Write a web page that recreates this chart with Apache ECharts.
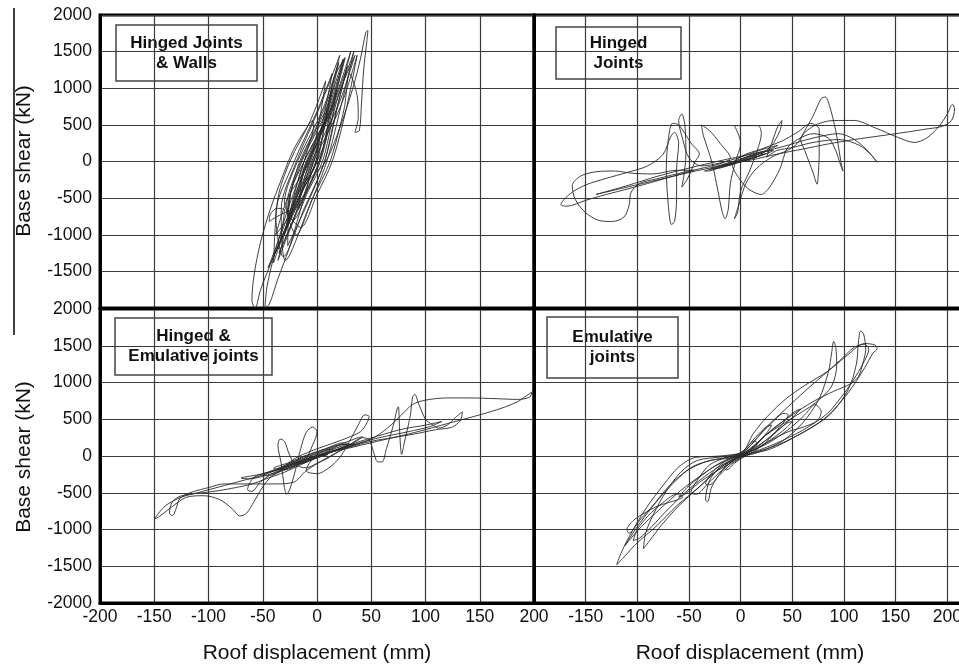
<!DOCTYPE html>
<html>
<head>
<meta charset="utf-8">
<script src="https://cdn.jsdelivr.net/npm/echarts@6/dist/echarts.min.js"></script>
<style>
  html, body { margin: 0; padding: 0; background: #fff; }
  #chart { width: 959px; height: 665px; }
</style>
</head>
<body>
<div id="chart"></div>
<script>
// Roof displacement (mm) vs base shear (kN) traces, one per joint configuration.
const hingedWallsLoop = [
  [0,0],[-5,-150],[-12,-300],[-5,-150],[-1,0],[1,150],[2,300],[-3,180],[-9,0],[-13,-150],
  [-17,-650],[-7,-330],[2,0],[8,320],[11,650],[3,350],[-8,0],[-16,-330],
  [-30,-1000],[-17,-500],[0,0],[7,500],[14,1000],[1,520],[-16,0],[-25,-500],
  [-27,-1150],[-9,-580],[7,0],[17,650],[28,1300],[13,700],[-9,0],[-21,-600],
  [-40,-1300],[-22,-650],[-3,0],[9,720],[21,1450],[3,760],[-19,0],[-33,-650],
  [-29,-1350],[-9,-680],[9,0],[22,750],[34,1500],[17,800],[-7,0],[-19,-680],
  [-35,-1250],[-17,-620],[2,0],[13,700],[24,1400],[9,740],[-15,0],[-28,-620],
  [-19,-1000],[-4,-500],[12,0],[25,720],[30,1200],[37,900],[38,600],[35,400],[39,420],[41,800],[43,1250],[46,1650],[47,1790],[45,1760],[40,1400],[33,1000],[22,500],[8,0],
  [-10,-300],[-25,-800],[-40,-1300],[-52,-1750],[-57,-2000],[-60,-1900],[-58,-1550],[-52,-1100],[-43,-650],[-33,-250],[-22,150],[-10,450],[-4,560],[-3,500],[-8,200],[-16,-200],[-28,-700],[-38,-1200],[-46,-1700],[-48,-2000],[-44,-1950],[-36,-1600],[-26,-1200],[-16,-700],[-6,-200],
  [6,200],[14,600],[22,1000],[35,1450],[20,780],[-5,0],[-16,-520],
  [-45,-1450],[-26,-720],[-4,0],[6,600],[14,1200],[-1,650],[-21,0],[-38,-720],
  [-31,-1300],[-12,-650],[7,0],[19,750],[31,1500],[15,800],[-10,0],[-24,-650],
  [-30,-700],[-38,-760],[-44,-820],[-43,-720],[-37,-640],[-30,-660],
  [-34,-1100],[-18,-550],[-1,0],[10,680],[20,1350],[5,700],[-18,0],[-30,-560],
  [-22,-800],[-8,-400],[5,0],[13,500],[18,1000],[6,520],[-12,0],[-20,-400],
  [-36,-1350],[-18,-680],[3,0],[14,700],[25,1400],[10,720],[-14,0],[-27,-660],
  [-15,-900],[0,-450],[14,0],[27,720],[37,1450],[22,760],[-3,0],[-12,-450],
  [-38,-1000],[-27,-500],[-7,0],[2,550],[8,1100],[-6,560],[-25,0],[-36,-500],
  [-40,-1380],[-24,-700],[-6,0],[8,600],[16,1150],[26,1420],[12,700],[-12,0],[-24,-400],[-28,-900],[-20,-450],[-8,0]
];

const hingedLoop = [
  [0,0],[8,30],[16,70],[12,75],[2,25],[-10,-30],[-18,-60],[-14,-60],[-2,-10],[12,50],[25,110],[32,150],[28,150],[14,90],[-4,10],[-22,-70],[-35,-130],[-32,-130],[-18,-70],[0,10],[18,100],[30,180],[36,220],
  [20,160],[0,60],[-20,-20],[-38,-60],[-50,50],[-56,300],[-60,560],[-57,650],[-54,500],[-53,100],[-55,-200],[-57,-350],[-52,-250],[-44,0],
  [-40,100],[-48,250],[-60,500],[-66,520],[-70,300],[-72,-100],[-70,-600],[-67,-860],[-64,-820],[-62,-500],[-62,-100],[-60,250],[-64,400],[-68,330],
  [-75,100],[-90,-60],[-110,-150],[-130,-230],[-150,-320],[-165,-440],[-174,-590],[-168,-610],[-150,-530],[-130,-450],[-108,-370],[-90,-300],[-75,-240],[-60,-180],[-45,-120],
  [-62,-120],[-85,-170],[-105,-160],[-122,-130],[-140,-140],[-155,-200],[-163,-330],[-160,-520],[-150,-700],[-138,-800],[-125,-820],[-113,-760],[-108,-600],[-106,-420],[-98,-300],[-82,-240],[-62,-170],[-40,-100],[-20,-30],
  [-10,50],[-20,250],[-30,420],[-38,500],[-36,350],[-28,0],[-22,-400],[-18,-680],[-15,-780],[-12,-650],[-10,-300],[-5,0],[0,250],[-6,490],[5,490],[17,490],[20,380],[16,150],[8,-150],[0,-400],[-3,-700],[-6,-780],[-2,-600],[5,-300],[15,-100],[30,60],[45,150],[55,250],
  [62,420],[70,620],[78,860],[82,880],[86,760],[92,420],[97,0],[99,-130],[97,-60],[92,150],[85,320],[70,380],[55,300],[45,180],[38,-100],[28,-350],[20,-450],[8,-380],[-2,-220],[-8,-50],[2,80],[20,170],[40,280],[55,400],[68,520],[76,440],[76,100],[75,-200],[74,-310],[70,-150],[62,150],[58,300],
  [70,480],[90,560],[110,560],[130,460],[152,330],[168,260],[180,320],[192,480],[200,650],[205,780],[207,720],[204,560],[195,480],[178,440],[160,400],[135,350],[110,300],[85,240],[60,170],[35,100],[10,20],[-20,-60],[-50,-150],[-80,-250],[-110,-350],[-140,-450],
  [-110,-330],[-80,-200],[-50,-90],[-20,10],[10,100],[40,200],[70,320],[95,380],[110,300],[122,160],[132,-10],[127,80],[115,220],[95,300],[70,260],[50,190],[35,150],
  [25,60],[30,250],[36,480],[40,560],[38,420],[30,220],[18,80],[0,0],
  [-14,-40],[-26,-100],[-20,-90],[-4,-20],[14,60],[28,130],[24,140],[8,70],[-10,-10],[-24,-70],[-30,-110],[-22,-90],[-6,-20],[10,40],[22,100],[18,110],[0,30]
];

const hingedEmulativeLoop = [
  [0,0],[8,40],[16,80],[12,90],[2,30],[-10,-50],[-18,-100],[-14,-100],[-2,-30],[12,50],[24,120],[30,160],[26,160],[12,90],[-6,0],[-22,-100],[-34,-180],[-30,-190],[-16,-110],[4,0],[22,100],[36,200],[42,260],[38,250],[22,160],[2,50],[-18,-60],[-38,-180],[-50,-260],[-46,-270],[-30,-180],[-12,-70],
  [-4,150],[0,330],[-4,395],[-10,320],[-15,100],[-20,-200],[-25,-450],[-28,-520],[-30,-430],[-33,-100],[-36,150],[-34,230],[-30,200],[-26,40],[-20,-120],[-10,-160],[0,-100],
  [10,-30],[20,60],[30,150],[42,250],[48,220],[52,60],[56,-80],[60,-80],[64,100],[70,400],[74,650],[75,670],[76,400],[77,120],[78,20],[80,150],[86,550],[88,800],[90,840],[94,700],[100,500],[106,430],[112,380],[120,420],[128,530],[134,600],[132,480],[124,390],[110,360],[90,300],[70,250],[50,200],[30,120],[10,40],[-10,-40],[-30,-140],
  [-20,-30],[-5,70],[10,150],[25,230],[40,330],[46,450],[48,540],[44,560],[38,420],[30,200],[22,0],[12,-150],[0,-240],[-10,-200],[-5,-60],[10,40],[30,110],[50,180],[70,250],[90,320],[110,400],[130,480],[150,560],[170,650],[185,740],[193,820],[198,870],[196,800],[185,770],[165,780],[140,790],[120,790],[100,760],[88,700],[78,560],[65,380],[50,230],[30,130],[10,50],[-10,-40],[-30,-150],[-50,-260],[-70,-340],[-90,-420],[-110,-500],[-125,-560],[-140,-680],[-150,-860],[-145,-820],[-130,-650],[-120,-560],[-105,-540],[-90,-590],[-78,-720],[-71,-816],[-65,-780],[-58,-620],[-50,-420],[-42,-280],[-32,-200],[-20,-130],[-5,-50],[10,20],
  [0,-20],[-15,-120],[-30,-220],[-45,-300],[-60,-380],[-75,-430],[-90,-470],[-105,-500],[-118,-520],[-128,-560],[-134,-640],[-136,-780],[-133,-810],[-130,-720],[-126,-570],[-115,-490],[-100,-430],[-86,-380],[-60,-380],[-40,-380],[-22,-360],[-10,-200],[5,-60],[20,60],[35,160],[20,150],[5,80],[-10,0],[-25,-100],[-40,-200],[-58,-290],[-64,-460],[-60,-480],[-52,-350],[-42,-250],[-28,-150],[-14,-80],[0,0],
  [14,90],[28,170],[24,180],[8,100],[-10,10],[-26,-90],[-40,-170],[-36,-180],[-20,-110],[0,-10],[20,100],[40,200],[60,290],[80,370],[100,420],[115,470],[104,400],[84,330],[64,270],[44,200],[24,110],[4,20],[-16,-80],[-36,-190],[-56,-260],[-70,-300],[-62,-310],[-44,-250],[-24,-150],[-6,-50],[0,0]
];

const emulativeLoop = [
  [0,0],[8,60],[16,180],[13,200],[4,90],[-6,-30],[-16,-160],[-14,-190],[-6,-100],[4,10],[14,130],[26,330],[30,420],[25,400],[14,250],[2,60],[-12,-40],[-26,-200],[-34,-380],[-30,-390],[-20,-250],[-6,-80],[8,20],[24,180],[38,400],[46,560],[42,580],[30,450],[16,250],[2,40],[-14,-20],[-30,-120],[-42,-330],[-48,-500],[-43,-520],[-32,-380],[-18,-190],[-2,-20],
  [15,40],[40,200],[60,450],[76,780],[85,1150],[88,1400],[90,1560],[92,1480],[93,1250],[88,950],[72,720],[48,500],[24,280],[6,60],[-18,-10],[-42,-60],[-58,-220],[-72,-480],[-84,-780],[-92,-1050],[-94,-1260],
  [-88,-1150],[-76,-930],[-60,-680],[-40,-420],[-18,-140],[4,10],[28,90],[55,280],[82,520],[104,860],[120,1200],[128,1400],[132,1460],[130,1510],[120,1530],[104,1380],[84,1150],[62,960],[44,780],[26,540],[12,300],[2,60],[-20,0],[-44,-20],[-60,-150],[-74,-380],[-92,-720],[-108,-1100],[-116,-1330],[-120,-1480],
  [-112,-1360],[-100,-1180],[-82,-960],[-62,-680],[-40,-420],[-16,-120],[6,20],[30,120],[58,300],[86,560],[104,900],[112,1250],[114,1550],[116,1700],[119,1660],[121,1450],[118,1250],[114,1080],[106,980],[90,880],[70,740],[50,560],[32,380],[16,180],[0,20],[-22,-40],[-46,-140],[-66,-380],[-84,-660],[-98,-880],[-108,-1050],[-110,-1000],
  [-104,-880],[-96,-800],[-80,-680],[-62,-600],[-56,-560],[-62,-520],[-74,-620],[-90,-820],[-100,-1000],[-104,-1150],
  [-98,-1120],[-86,-960],[-70,-720],[-50,-450],[-30,-230],[-10,-60],[10,40],[34,170],[60,350],[84,580],[100,850],[112,1100],[120,1300],[124,1450],[120,1520],[110,1480],[96,1300],[80,1100],[62,880],[42,620],[24,380],[8,120],[-8,-20],[-30,-60],[-52,-200],[-70,-420],[-86,-700],[-100,-960],[-112,-1220],[-108,-1150],
  [-96,-960],[-78,-720],[-58,-470],[-38,-260],[-18,-80],[4,30],[26,170],[48,380],[62,560],[72,700],[78,600],[74,480],[62,400],[46,330],[30,220],[14,90],[-4,-10],[-24,-130],[-40,-290],[-52,-430],[-60,-560],
  [-54,-520],[-40,-360],[-26,-230],[-14,-130],[0,-20],[16,120],[34,330],[50,520],[58,640],[52,600],[40,460],[24,280],[10,100],[-4,-20],[-20,-160],[-30,-330],[-34,-600],[-32,-620],[-28,-420],[-18,-200],[-6,-50],[10,80],[28,250],[44,440],[50,470],[44,380],[30,230],[14,90],[0,0]
];

const panelTitles = ['Hinged Joints\n& Walls', 'Hinged\nJoints', 'Hinged &\nEmulative joints', 'Emulative\njoints'];
const xTitle = 'Roof displacement (mm)';
const yTitle = 'Base shear (kN)';

const FONT = '"Liberation Sans", Arial, Helvetica, sans-serif';

const panels = [
  { data: hingedWallsLoop,      grid: { left: 100, top: 15,  width: 434, height: 293 }, xMax: 200, xLabels: false, yLabels: true,  hideYMin: true,  box: [116, 25, 141, 56] },
  { data: hingedLoop,           grid: { left: 534, top: 15,  width: 465, height: 293 }, xMax: 250, xLabels: false, yLabels: false, hideYMin: false, box: [556, 27, 125, 52] },
  { data: hingedEmulativeLoop,  grid: { left: 100, top: 309, width: 434, height: 294 }, xMax: 200, xLabels: true,  yLabels: true,  hideYMin: false, box: [115, 318, 157, 57] },
  { data: emulativeLoop,        grid: { left: 534, top: 309, width: 465, height: 294 }, xMax: 250, xLabels: true,  yLabels: false, hideYMin: false, box: [547, 317, 131, 61] }
];

const gridLine = { color: '#3a3a3a', width: 1.2 };
const frameLine = { color: '#000', width: 3 };
const plain = v => String(v);

const option = {
  animation: false,
  backgroundColor: '#fff',
  grid: panels.map(p => Object.assign({
    show: true, borderColor: '#000', borderWidth: 3, backgroundColor: 'transparent',
    containLabel: false, outerBoundsMode: 'none'
  }, p.grid)),
  xAxis: panels.map((p, i) => ({
    type: 'value', gridIndex: i, min: -200, max: p.xMax, interval: 50,
    axisLine: { show: true, onZero: false, lineStyle: frameLine },
    axisTick: { show: false },
    splitLine: { show: true, lineStyle: gridLine },
    axisLabel: {
      show: p.xLabels, margin: 5, fontSize: 17.5, color: '#111', fontFamily: FONT, formatter: plain,
      showMinLabel: i !== 3, showMaxLabel: p.xMax === 200
    }
  })),
  yAxis: panels.map((p, i) => ({
    type: 'value', gridIndex: i, min: -2000, max: 2000, interval: 500,
    axisLine: { show: true, onZero: false, lineStyle: frameLine },
    axisTick: { show: false },
    splitLine: { show: true, lineStyle: gridLine },
    axisLabel: {
      show: p.yLabels, margin: 8, fontSize: 17.5, color: '#111', fontFamily: FONT, formatter: plain,
      showMinLabel: !p.hideYMin, showMaxLabel: true
    }
  })),
  series: panels.map((p, i) => ({
    type: 'line', xAxisIndex: i, yAxisIndex: i, data: p.data,
    showSymbol: false, symbol: 'none', smooth: 0.3, clip: true,
    lineStyle: { color: '#2a2a2a', width: 0.9 }
  })),
  graphic: [
    { type: 'line', shape: { x1: 14, y1: 8, x2: 14, y2: 335 }, style: { stroke: '#000', lineWidth: 1.5 }, z: 10 },
    { type: 'text', x: 24, y: 161, rotation: Math.PI / 2, style: { text: yTitle, fontSize: 21, fontFamily: FONT, fill: '#111', align: 'center', verticalAlign: 'middle' }, z: 10 },
    { type: 'text', x: 24, y: 457, rotation: Math.PI / 2, style: { text: yTitle, fontSize: 21, fontFamily: FONT, fill: '#111', align: 'center', verticalAlign: 'middle' }, z: 10 },
    { type: 'text', x: 317, y: 653, style: { text: xTitle, fontSize: 21, fontFamily: FONT, fill: '#111', align: 'center', verticalAlign: 'middle' }, z: 10 },
    { type: 'text', x: 750, y: 653, style: { text: xTitle, fontSize: 21, fontFamily: FONT, fill: '#111', align: 'center', verticalAlign: 'middle' }, z: 10 }
  ].concat(panels.map((p, i) => ({
    type: 'group', z: 20,
    children: [
      { type: 'rect', shape: { x: p.box[0], y: p.box[1], width: p.box[2], height: p.box[3] }, style: { fill: '#fff', stroke: '#444', lineWidth: 1.5 } },
      { type: 'text', x: p.box[0] + p.box[2] / 2, y: p.box[1] + p.box[3] / 2,
        style: { text: panelTitles[i], fontSize: 17, fontWeight: 'bold', fontFamily: FONT, fill: '#111', align: 'center', verticalAlign: 'middle', lineHeight: 20 } }
    ]
  })))
};

const chart = echarts.init(document.getElementById('chart'), null, { renderer: 'canvas' });
chart.setOption(option);
</script>
</body>
</html>
